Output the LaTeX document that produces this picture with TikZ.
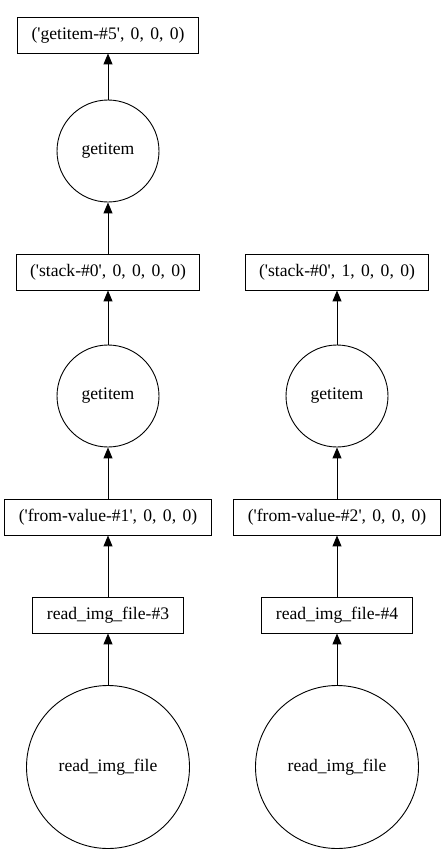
\documentclass[tikz,border=0pt]{standalone}
\usepackage{fontspec}
\setmainfont{Liberation Serif}
\usetikzlibrary{arrows.meta}

\newcommand{\qt}{\textquotesingle}
\newcommand{\boxfont}{\fontsize{17.6}{19}\selectfont\spaceskip=0.36em plus 0pt minus 0pt\relax}

\begin{document}
\begin{tikzpicture}[x=1pt,y=-1pt,
  box/.style={draw,rectangle,line width=0.9pt,minimum height=36pt,inner xsep=14pt,
    font=\boxfont},
  fn/.style={draw,circle,line width=0.9pt,inner sep=0pt,font=\fontsize{17.6}{19}\selectfont},
  dep/.style={-{Triangle[length=11pt,width=9pt]},line width=1pt}]
  \useasboundingbox (0,0) rectangle (445,855);

  % left column
  \node (g5) [box] at (108,35) {(\qt getitem-\#5\qt, 0, 0, 0)};
  \node (gia) [fn,minimum size=102pt] at (108,151) {getitem};
  \node (sta) [box] at (108,272) {(\qt stack-\#0\qt, 0, 0, 0, 0)};
  \node (gib) [fn,minimum size=102pt] at (108,396) {getitem};
  \node (fv1) [box] at (108,517) {(\qt from-value-\#1\qt, 0, 0, 0)};
  \node (rf3) [box] at (108,615) {read\_img\_file-\#3};
  \node (rca) [fn,minimum size=163pt] at (108,767) {read\_img\_file};

  % right column
  \node (stb) [box] at (337,272) {(\qt stack-\#0\qt, 1, 0, 0, 0)};
  \node (gic) [fn,minimum size=102pt] at (337,396) {getitem};
  \node (fv2) [box] at (337,517) {(\qt from-value-\#2\qt, 0, 0, 0)};
  \node (rf4) [box] at (337,615) {read\_img\_file-\#4};
  \node (rcb) [fn,minimum size=163pt] at (337,767) {read\_img\_file};

  \draw[dep] (gia) -- (g5);
  \draw[dep] (sta) -- (gia);
  \draw[dep] (gib) -- (sta);
  \draw[dep] (fv1) -- (gib);
  \draw[dep] (rf3) -- (fv1);
  \draw[dep] (rca) -- (rf3);

  \draw[dep] (gic) -- (stb);
  \draw[dep] (fv2) -- (gic);
  \draw[dep] (rf4) -- (fv2);
  \draw[dep] (rcb) -- (rf4);
\end{tikzpicture}
\end{document}
